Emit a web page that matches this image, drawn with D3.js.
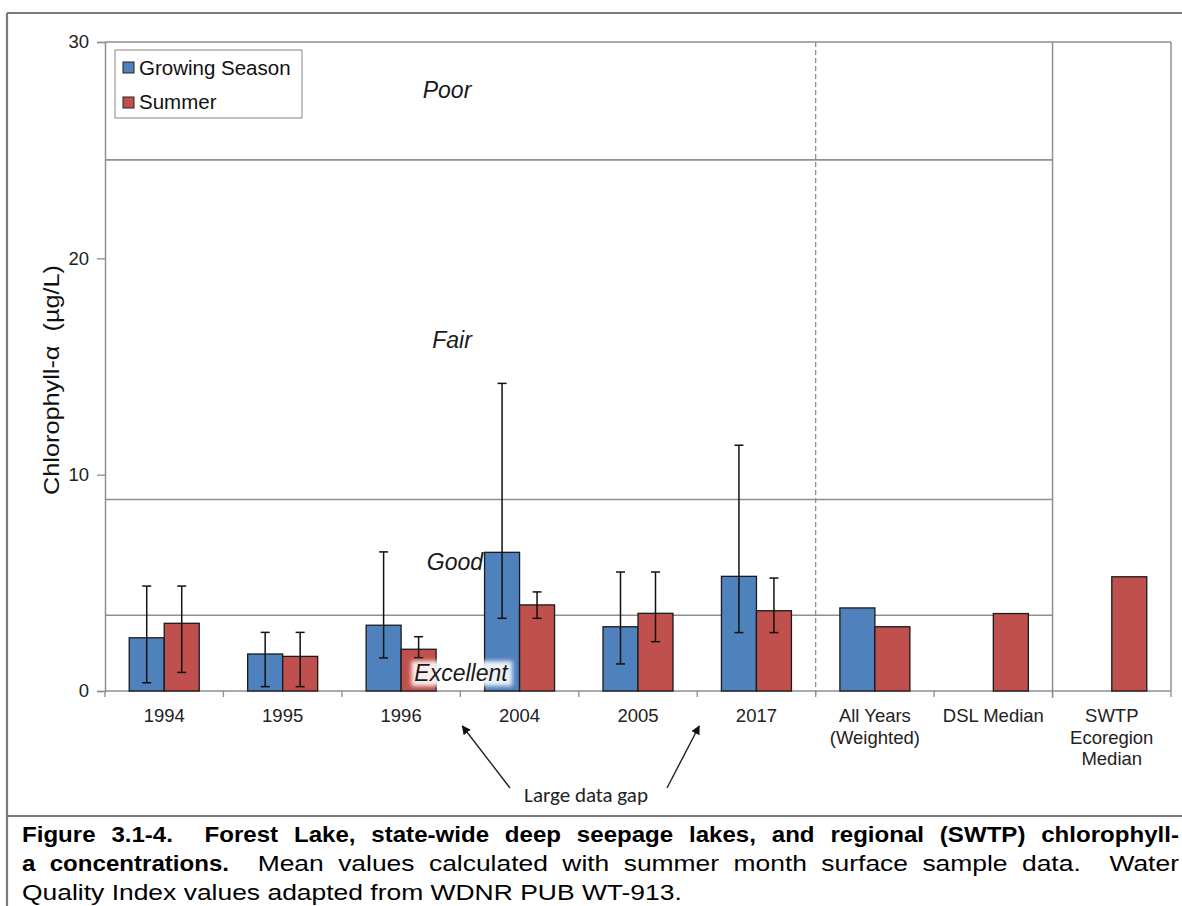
<!DOCTYPE html>
<html>
<head>
<meta charset="utf-8">
<script src="https://cdn.jsdelivr.net/npm/d3@7"></script>
<style>
  html, body { margin: 0; padding: 0; background: #fff; }
  svg { display: block; font-family: "Liberation Sans", Arial, sans-serif; }
</style>
</head>
<body>
<svg id="chart" width="1182" height="906"></svg>
<script>
// ---- Data -----------------------------------------------------------------
const categories = ["1994", "1995", "1996", "2004", "2005", "2017", "All Years", "DSL Median", "SWTP"];
const categoryLabels = [
  ["1994"], ["1995"], ["1996"], ["2004"], ["2005"], ["2017"],
  ["All Years", "(Weighted)"], ["DSL Median"], ["SWTP", "Ecoregion", "Median"]
];
const seriesNames = ["Growing Season", "Summer"];

const growingSeason     = [2.46, 1.71, 3.04, 6.41, 2.97, 5.30, 3.84, null, null];
const growingSeasonLow  = [0.38, 0.20, 1.53, 3.36, 1.25, 2.70, null, null, null];
const growingSeasonHigh = [4.85, 2.71, 6.43, 14.22, 5.50, 11.36, null, null, null];

const summer     = [3.13, 1.60, 1.93, 3.98, 3.59, 3.71, 2.97, 3.58, 5.28];
const summerLow  = [0.86, 0.20, 1.54, 3.36, 2.28, 2.70, null, null, null];
const summerHigh = [4.85, 2.71, 2.51, 4.58, 5.50, 5.22, null, null, null];

// Water Quality Index breaks (µg/L) and zone names, lowest zone first
const qualityBreaks = [3.5, 8.85, 24.55];
const qualityNames = ["Excellent", "Good", "Fair", "Poor"];

const yTicks = [0, 10, 20, 30];

// ---- Layout ---------------------------------------------------------------
const svg = d3.select("#chart");
const W = 1182, H = 906;
const plot = { left: 105, right: 1171, top: 42, bottom: 691 };
const colors = { "Growing Season": "#4F81BD", "Summer": "#C0504D" };
const gridGray = "#8e8e8e";

const x0 = d3.scaleBand().domain(categories).range([plot.left, plot.right]).paddingInner(0).paddingOuter(0);
const groupW = 70;
const x1 = d3.scaleBand().domain(seriesNames)
  .range([(x0.bandwidth() - groupW) / 2, (x0.bandwidth() + groupW) / 2]).padding(0);
const y = d3.scaleLinear().domain([0, 30]).range([plot.bottom, plot.top]);

const rows = categories.map((c, i) => ({
  category: c,
  values: [
    { series: "Growing Season", value: growingSeason[i], low: growingSeasonLow[i], high: growingSeasonHigh[i] },
    { series: "Summer", value: summer[i], low: summerLow[i], high: summerHigh[i] }
  ]
}));

// ---- Outer frame ----------------------------------------------------------
const frame = svg.append("g").attr("stroke", "#7a7a7a").attr("stroke-width", 2.2).attr("fill", "none");
frame.append("line").attr("x1", 7).attr("x2", W + 5).attr("y1", 13).attr("y2", 13);
frame.append("line").attr("x1", 7).attr("x2", 7).attr("y1", 13).attr("y2", H + 5);
frame.append("line").attr("x1", 7).attr("x2", W + 5).attr("y1", 816).attr("y2", 816);

// ---- Plot border and quality zone lines -------------------------------------
const g = svg.append("g");

g.append("line").attr("x1", plot.left).attr("x2", plot.right).attr("y1", plot.top).attr("y2", plot.top)
  .attr("stroke", gridGray).attr("stroke-width", 1.5);
g.append("line").attr("x1", plot.right).attr("x2", plot.right).attr("y1", plot.top).attr("y2", plot.bottom)
  .attr("stroke", gridGray).attr("stroke-width", 1.5);

const sepDashed = x0("All Years");
const sepSolid = x0("SWTP");

g.selectAll(".zone-line").data(qualityBreaks).join("line")
  .attr("class", "zone-line")
  .attr("x1", plot.left).attr("x2", sepSolid)
  .attr("y1", d => y(d)).attr("y2", d => y(d))
  .attr("stroke", gridGray).attr("stroke-width", 1.6);

g.append("line").attr("x1", sepDashed).attr("x2", sepDashed).attr("y1", plot.top).attr("y2", plot.bottom + 7)
  .attr("stroke", gridGray).attr("stroke-width", 1.3).attr("stroke-dasharray", "5,3");
g.append("line").attr("x1", sepSolid).attr("x2", sepSolid).attr("y1", plot.top).attr("y2", plot.bottom + 7)
  .attr("stroke", gridGray).attr("stroke-width", 1.5);

// ---- Quality zone names (placement) -----------------------------------------
const zoneLabelPos = [
  { name: "Poor", x: 447, y: 98 },
  { name: "Fair", x: 452, y: 348 },
  { name: "Good", x: 455, y: 570 },
  { name: "Excellent", x: 461, y: 681 }
];

// ---- Y axis ---------------------------------------------------------------
const yAxis = d3.axisLeft(y).tickValues(yTicks).tickSize(8).tickPadding(8).tickFormat(d3.format("d"));
const yg = svg.append("g").attr("transform", `translate(${plot.left},0)`).call(yAxis);
yg.select(".domain").attr("stroke", gridGray).attr("stroke-width", 1.5);
yg.selectAll(".tick line").attr("stroke", gridGray).attr("stroke-width", 1.3);
yg.selectAll(".tick text").attr("font-size", 18.5).attr("fill", "#222").attr("font-family", "Liberation Sans, Arial, sans-serif");

svg.append("text")
  .attr("transform", "translate(59,380) rotate(-90)")
  .attr("text-anchor", "middle")
  .attr("font-size", 22)
  .attr("fill", "#111")
  .attr("xml:space", "preserve")
  .attr("textLength", 230)
  .attr("lengthAdjust", "spacingAndGlyphs")
  .text("Chlorophyll-α  (µg/L)");

// ---- X axis ---------------------------------------------------------------
const xg = svg.append("g");
xg.append("line").attr("x1", plot.left).attr("x2", plot.right).attr("y1", plot.bottom).attr("y2", plot.bottom)
  .attr("stroke", gridGray).attr("stroke-width", 1.5);
const boundaries = categories.map(c => x0(c)).concat([plot.right]);
xg.selectAll(".xtick").data(boundaries).join("line")
  .attr("class", "xtick")
  .attr("x1", d => d).attr("x2", d => d)
  .attr("y1", plot.bottom).attr("y2", plot.bottom + 6)
  .attr("stroke", gridGray).attr("stroke-width", 1.3);

const xl = xg.selectAll(".xlabel").data(categories).join("text")
  .attr("class", "xlabel")
  .attr("x", d => x0(d) + x0.bandwidth() / 2)
  .attr("y", 722)
  .attr("text-anchor", "middle")
  .attr("font-size", 18.5)
  .attr("fill", "#222");
xl.each(function (d, i) {
  d3.select(this).selectAll("tspan").data(categoryLabels[i]).join("tspan")
    .attr("x", x0(d) + x0.bandwidth() / 2)
    .attr("dy", (t, j) => j === 0 ? 0 : 21.5)
    .text(t => t);
});

// ---- Bars -----------------------------------------------------------------
const groups = svg.append("g").selectAll("g").data(rows).join("g")
  .attr("transform", d => `translate(${x0(d.category)},0)`);

groups.selectAll("rect").data(d => d.values.filter(v => v.value != null)).join("rect")
  .attr("x", d => x1(d.series))
  .attr("width", x1.bandwidth())
  .attr("y", d => y(d.value))
  .attr("height", d => y(0) - y(d.value))
  .attr("fill", d => colors[d.series])
  .attr("stroke", "#1a1a1a")
  .attr("stroke-width", 1.3);

// ---- Error bars -----------------------------------------------------------
const errs = groups.selectAll(".err").data(d => d.values.filter(v => v.low != null && v.high != null)).join("g")
  .attr("class", "err")
  .attr("stroke", "#111").attr("stroke-width", 1.5);
const cx = d => x1(d.series) + x1.bandwidth() / 2;
errs.append("line").attr("x1", cx).attr("x2", cx).attr("y1", d => y(d.low)).attr("y2", d => y(d.high));
errs.append("line").attr("x1", d => cx(d) - 4.5).attr("x2", d => cx(d) + 4.5).attr("y1", d => y(d.high)).attr("y2", d => y(d.high));
errs.append("line").attr("x1", d => cx(d) - 4.5).attr("x2", d => cx(d) + 4.5).attr("y1", d => y(d.low)).attr("y2", d => y(d.low));

// Zone names drawn above the bars; "Excellent" sits on a soft white backdrop
const defs = svg.append("defs");
defs.append("filter").attr("id", "soft").attr("x", "-20%").attr("y", "-40%").attr("width", "140%").attr("height", "180%")
  .append("feGaussianBlur").attr("stdDeviation", 2.2);

const zl = svg.append("g");
zoneLabelPos.forEach(z => {
  const t = zl.append("text")
    .attr("x", z.x).attr("y", z.y)
    .attr("text-anchor", "middle")
    .attr("font-size", 23)
    .attr("font-style", "italic")
    .attr("fill", "#1a1a1a")
    .text(z.name);
  if (z.name === qualityNames[0]) {
    const b = t.node().getBBox();
    zl.insert("rect", "text")
      .attr("x", b.x - 3).attr("y", b.y + 1).attr("width", b.width + 6).attr("height", b.height - 1)
      .attr("fill", "#fff").attr("opacity", 0.9).attr("filter", "url(#soft)");
  }
});

// ---- Legend ---------------------------------------------------------------
const lg = svg.append("g");
lg.append("rect").attr("x", 115).attr("y", 50).attr("width", 187).attr("height", 68)
  .attr("fill", "#fff").attr("stroke", "#9a9a9a").attr("stroke-width", 1.2);
seriesNames.forEach((s, i) => {
  lg.append("rect").attr("x", 123).attr("y", 62 + i * 35).attr("width", 11).attr("height", 11)
    .attr("fill", colors[s]).attr("stroke", "#222").attr("stroke-width", 1);
  lg.append("text").attr("x", 139).attr("y", 75 + i * 34).attr("font-size", 20.5).attr("fill", "#111").text(s);
});

// ---- "Large data gap" annotation ------------------------------------------
defs.append("marker").attr("id", "arrowhead").attr("viewBox", "0 0 10 10")
  .attr("refX", 9).attr("refY", 5).attr("markerWidth", 9).attr("markerHeight", 9)
  .attr("markerUnits", "userSpaceOnUse").attr("orient", "auto")
  .append("path").attr("d", "M0,0 L10,5 L0,10 Z").attr("fill", "#111");
const gapX = (x0("1996") + x0.bandwidth() + x0("2004")) / 2;
const gapX2 = (x0("2005") + x0.bandwidth() + x0("2017")) / 2;
svg.append("line").attr("x1", 510).attr("y1", 788).attr("x2", gapX + 2).attr("y2", 726)
  .attr("stroke", "#222").attr("stroke-width", 1.4).attr("marker-end", "url(#arrowhead)");
svg.append("line").attr("x1", 667).attr("y1", 788).attr("x2", gapX2 + 2).attr("y2", 726)
  .attr("stroke", "#222").attr("stroke-width", 1.4).attr("marker-end", "url(#arrowhead)");
svg.append("text").attr("x", 586).attr("y", 802).attr("text-anchor", "middle")
  .attr("font-family", "Carlito, Lato, 'Open Sans', sans-serif").attr("font-size", 21).attr("fill", "#222")
  .text("Large data gap");

// ---- Caption (justified paragraph) ------------------------------------------
const captionLines = [
  { segs: [{ text: "Figure 3.1-4.  Forest Lake, state-wide deep seepage lakes, and regional (SWTP) chlorophyll-", bold: true }], justify: true, y: 842 },
  { segs: [{ text: "a concentrations.", bold: true }, { text: "  Mean values calculated with summer month surface sample data.  Water", bold: false }], justify: true, y: 871 },
  { segs: [{ text: "Quality Index values adapted from WDNR PUB WT-913.", bold: false }], justify: false, y: 900 }
];
const capSize = 22.5;
const stretch = { bold: 1.07, normal: 1.175 };   // horizontal glyph widening of the caption face
const cap = svg.append("g").attr("font-size", capSize).attr("fill", "#000");
const capLeft = 22, capRight = 1179;
captionLines.forEach(line => {
  const items = [];
  let pending = 0;
  line.segs.forEach(seg => {
    seg.text.split(" ").forEach((p, i) => {
      if (i > 0) pending++;
      if (p === "") return;
      items.push({ word: p, bold: seg.bold, spaces: items.length ? pending : 0 });
      pending = 0;
    });
  });
  items.forEach(it => {
    it.sx = it.bold ? stretch.bold : stretch.normal;
    it.node = cap.append("text").attr("x", 0).attr("y", 0)
      .attr("font-weight", it.bold ? "bold" : "normal").text(it.word);
    it.w = it.node.node().getComputedTextLength() * it.sx;
  });
  const totalW = d3.sum(items, d => d.w);
  const totalS = d3.sum(items, d => d.spaces);
  const spaceW = line.justify ? (capRight - capLeft - totalW) / totalS : capSize * 0.278 * stretch.normal;
  let cxp = capLeft;
  items.forEach(it => {
    cxp += it.spaces * spaceW;
    it.node.attr("transform", `translate(${cxp},${line.y}) scale(${it.sx},1)`);
    cxp += it.w;
  });
});
</script>
</body>
</html>
